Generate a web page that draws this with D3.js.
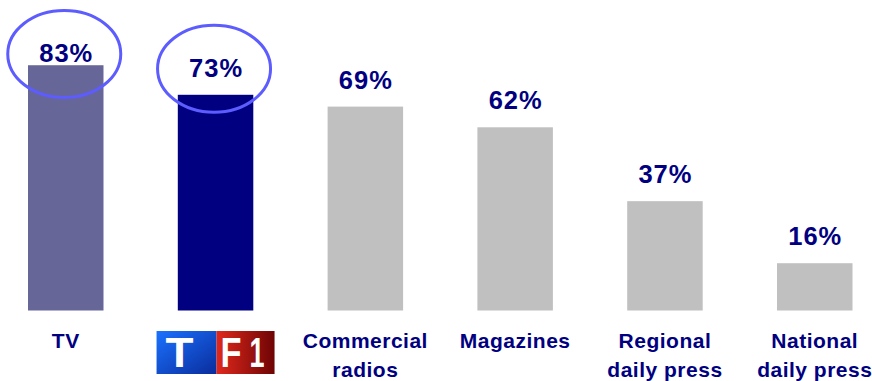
<html lang="en">
<head>
    <meta charset="UTF-8">
    <title>Media reach</title>
    <script src="https://cdnjs.cloudflare.com/ajax/libs/d3/7.8.5/d3.min.js"></script>
    <style type="text/css">
        body { margin: 0; background: #ffffff; }
        text { font-family: "Liberation Sans", Arial, sans-serif; font-weight: bold; fill: #000080; }
    </style>
</head>
<body>
    <div id="chart"></div>
    <script type="text/javascript">

        // Data
        var categories = ["TV", "TF1", "Commercial radios", "Magazines", "Regional daily press", "National daily press"];
        var values = [83, 73, 69, 62, 37, 16];
        var labelLines = [["TV"], [], ["Commercial", "radios"], ["Magazines"], ["Regional", "daily press"], ["National", "daily press"]];
        var highlighted = ["TV", "TF1"];
        var logoCategory = "TF1";

        var w = 872;
        var h = 381;

        var svg = d3.select("#chart")
            .append("svg")
            .attr("width", w)
            .attr("height", h);

        var data = categories.map(function(c, i) {
            return {cat: c, value: values[i], lines: labelLines[i]};
        });

        // Scales
        var xScale = d3.scaleBand()
            .domain(categories)
            .range([-9.15, 889.65])
            .paddingInner(0.496)
            .paddingOuter(0.248);

        var yScale = d3.scaleLinear()
            .domain([0, 100])
            .range([310.5, 15]);

        var color = d3.scaleOrdinal()
            .domain(categories)
            .range(["#666699", "#000080", "#c0c0c0", "#c0c0c0", "#c0c0c0", "#c0c0c0"]);

        var cx = function(d) { return xScale(d.cat) + xScale.bandwidth() / 2; };
        // value label baseline, kept below the top of the chart
        var labelY = function(d) { return Math.max(yScale(d.value) - 18, 62); };

        // Bars
        svg.selectAll("rect.bar")
            .data(data)
            .enter()
            .append("rect")
            .attr("class", "bar")
            .attr("x", function(d) { return xScale(d.cat); })
            .attr("y", function(d) { return yScale(d.value); })
            .attr("width", xScale.bandwidth())
            .attr("height", function(d) { return yScale(0) - yScale(d.value); })
            .attr("fill", function(d) { return color(d.cat); });

        // Value labels
        svg.selectAll("text.value")
            .data(data)
            .enter()
            .append("text")
            .attr("class", "value")
            .attr("x", function(d) { return cx(d) + 0.5; })
            .attr("y", labelY)
            .attr("text-anchor", "middle")
            .style("font-size", "25.5px")
            .style("letter-spacing", "1px")
            .text(function(d) { return d.value + "%"; });

        // Highlight ellipses
        svg.selectAll("ellipse.hl")
            .data(data.filter(function(d) { return highlighted.indexOf(d.cat) >= 0; }))
            .enter()
            .append("ellipse")
            .attr("class", "hl")
            .attr("cx", function(d) { return cx(d) - 1.5; })
            .attr("cy", function(d) { return labelY(d) - 8; })
            .attr("rx", 56.5)
            .attr("ry", 43.5)
            .attr("fill", "none")
            .attr("stroke", "#5c5cff")
            .attr("stroke-width", 3);

        // Category labels
        var cats = svg.selectAll("text.cat")
            .data(data)
            .enter()
            .append("text")
            .attr("class", "cat")
            .attr("text-anchor", "middle")
            .style("font-size", "21px")
            .style("letter-spacing", "0.5px");

        cats.selectAll("tspan")
            .data(function(d) { return d.lines.map(function(l) { return {line: l, x: cx(d)}; }); })
            .enter()
            .append("tspan")
            .attr("x", function(d) { return d.x; })
            .attr("y", function(d, i) { return 348 + i * 29; })
            .text(function(d) { return d.line; });

        // TF1 logo in place of its label
        var defs = svg.append("defs");
        var blue = defs.append("linearGradient").attr("id", "tfBlue")
            .attr("x1", "0").attr("y1", "0").attr("x2", "1").attr("y2", "1");
        blue.append("stop").attr("offset", "0%").attr("stop-color", "#1a72ff");
        blue.append("stop").attr("offset", "100%").attr("stop-color", "#0a2c9c");
        var red = defs.append("linearGradient").attr("id", "tfRed")
            .attr("x1", "0").attr("y1", "0").attr("x2", "1").attr("y2", "0");
        red.append("stop").attr("offset", "0%").attr("stop-color", "#e0281c");
        red.append("stop").attr("offset", "100%").attr("stop-color", "#6e0404");

        var lx = cx(data[categories.indexOf(logoCategory)]) - 59;
        var logo = svg.append("g").attr("transform", "translate(" + lx + ",331)");
        logo.append("rect").attr("width", 60).attr("height", 43).attr("fill", "url(#tfBlue)");
        logo.append("rect").attr("x", 60).attr("width", 58).attr("height", 43).attr("fill", "url(#tfRed)");
        // letter, left edge, width
        logo.selectAll("text")
            .data([["T", 9, 28], ["F", 64, 21], ["1", 93, 15]])
            .enter()
            .append("text")
            .attr("x", function(d) { return d[1]; })
            .attr("y", 36)
            .attr("textLength", function(d) { return d[2]; })
            .attr("lengthAdjust", "spacingAndGlyphs")
            .style("font-family", "'Liberation Sans', Arial, sans-serif")
            .style("font-weight", "bold")
            .style("font-size", "43px")
            .style("fill", "#ffffff")
            .text(function(d) { return d[0]; });

    </script>
</body>
</html>
